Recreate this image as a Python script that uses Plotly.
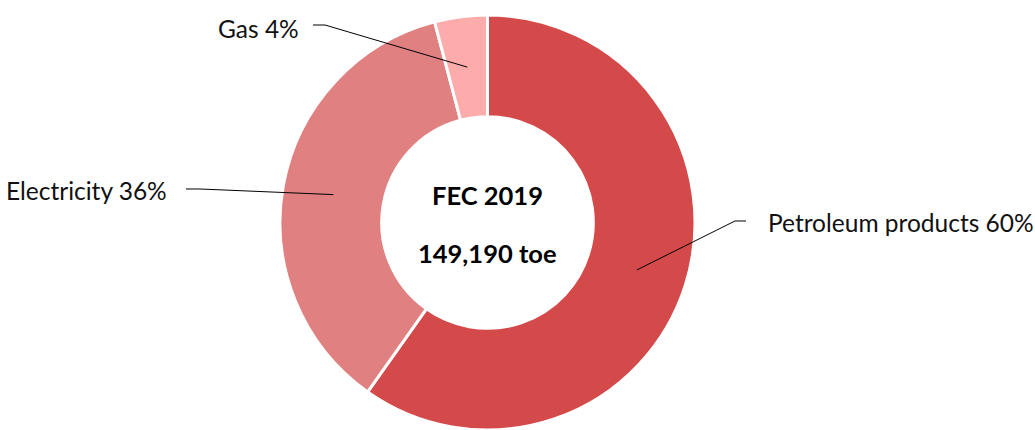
import math
import plotly.graph_objects as go

# Data
categories = ["Petroleum products", "Electricity", "Gas"]
shares = [59.8, 36.1, 4.1]
label_text = ["Petroleum products 60%", "Electricity 36%", "Gas 4%"]
colors = ["#D44A4A", "#E08080", "#FDABAB"]
center_title = "FEC 2019"
center_total = "149,190 toe"

W, H = 1035, 430
FONT = "Lato"

# Pie placement (pixels)
dom_x = [278 / W, 697 / W]
dom_y = [0.0, 1 - 15 / H]
hole = 0.51

fig = go.Figure(go.Pie(
    labels=categories,
    values=shares,
    sort=False,
    direction="clockwise",
    rotation=0,
    hole=hole,
    textinfo="none",
    hoverinfo="label+percent",
    marker=dict(colors=colors, line=dict(color="white", width=3)),
    domain=dict(x=dom_x, y=dom_y),
    showlegend=False,
))

# geometry of pie in pixels
dw = (dom_x[1] - dom_x[0]) * W
dh = (dom_y[1] - dom_y[0]) * H
R = min(dw, dh) / 2
cx = (dom_x[0] + dom_x[1]) / 2 * W
cy = (1 - (dom_y[0] + dom_y[1]) / 2) * H
rmid = R * (1 + hole) / 2

def px(x):
    return x / W

def py(y):
    return 1 - y / H

# label layout (pixels): elbow point, text anchor
label_layout = {
    "Petroleum products": dict(elbow=(735, 221), end=(746, 221), tx=766, ty=222, anchor="left"),
    "Electricity": dict(elbow=(200, 189), end=(186, 189), tx=169, ty=191, anchor="right"),
    "Gas": dict(elbow=(325, 25), end=(313, 25), tx=301, ty=28, anchor="right"),
}

total = sum(shares)
cum = 0.0
shapes = []
annotations = []
for cat, val, txt in zip(categories, shares, label_text):
    mid = (cum + val / 2) / total * 2 * math.pi
    cum += val
    ex = cx + rmid * math.sin(mid)
    ey = cy - rmid * math.cos(mid)
    lay = label_layout[cat]
    path = "M {:.5f},{:.5f} L {:.5f},{:.5f} L {:.5f},{:.5f}".format(
        px(ex), py(ey), px(lay["elbow"][0]), py(lay["elbow"][1]),
        px(lay["end"][0]), py(lay["end"][1]))
    shapes.append(dict(type="path", xref="paper", yref="paper", path=path,
                       line=dict(color="black", width=1)))
    annotations.append(dict(text=txt, x=px(lay["tx"]), y=py(lay["ty"]),
                            xref="paper", yref="paper", showarrow=False,
                            xanchor=lay["anchor"], yanchor="middle",
                            font=dict(family=FONT, size=24.5, color="#111111")))

annotations.append(dict(text="<b>" + center_title + "</b>", x=px(cx), y=py(195),
                        xref="paper", yref="paper", showarrow=False,
                        xanchor="center", yanchor="middle",
                        font=dict(family=FONT, size=25.5, color="#000000")))
annotations.append(dict(text="<b>" + center_total + "</b>", x=px(cx), y=py(253),
                        xref="paper", yref="paper", showarrow=False,
                        xanchor="center", yanchor="middle",
                        font=dict(family=FONT, size=25.5, color="#000000")))

fig.update_layout(
    width=W, height=H,
    margin=dict(l=0, r=0, t=0, b=0),
    paper_bgcolor="white", plot_bgcolor="white",
    shapes=shapes, annotations=annotations,
)

fig.write_html("out.html")
